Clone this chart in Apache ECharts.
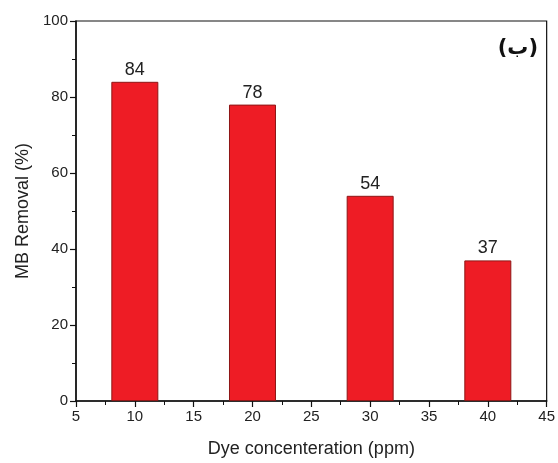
<!DOCTYPE html>
<html>
<head>
<meta charset="utf-8">
<script src="https://cdn.jsdelivr.net/npm/echarts@6/dist/echarts.min.js"></script>
<style>
  html, body { margin: 0; padding: 0; background: #fff; }
  #chart { width: 558px; height: 463px; }
</style>
</head>
<body>
<div id="chart"></div>
<script>
// Dye concentration (ppm) and methylene blue removal (%)
const concentrations = [10, 20, 30, 40];
const removal = [84, 78, 54, 37];
const xTicks = { min: 5, max: 45, step: 5 };
const yTicks = { min: 0, max: 100, step: 20 };
const panelTag = '(ب)';

const chart = echarts.init(document.getElementById('chart'));
const font = 'Liberation Sans, Arial, sans-serif';

chart.setOption({
  animation: false,
  grid: {
    left: 76, right: 8, top: 21, bottom: 60,
    show: true, borderColor: '#111', borderWidth: 1.2, backgroundColor: 'transparent'
  },
  xAxis: {
    type: 'value',
    min: xTicks.min, max: xTicks.max, interval: xTicks.step,
    name: 'Dye concenteration (ppm)',
    nameLocation: 'middle', nameGap: 39,
    nameTextStyle: { fontFamily: font, fontSize: 18, color: '#222' },
    axisLine: { show: true, onZero: false, lineStyle: { color: '#111', width: 1.5 } },
    axisTick: { show: true, inside: false, length: 6, lineStyle: { color: '#111', width: 1.2 } },
    minorTick: { show: true, splitNumber: 2, length: 4, lineStyle: { color: '#111', width: 1 } },
    axisLabel: { fontFamily: font, fontSize: 15, color: '#222', margin: 8 },
    splitLine: { show: false }
  },
  yAxis: {
    type: 'value',
    min: yTicks.min, max: yTicks.max, interval: yTicks.step,
    name: 'MB Removal (%)',
    nameLocation: 'middle', nameGap: 43,
    nameTextStyle: { fontFamily: font, fontSize: 18, color: '#222' },
    axisLine: { show: true, lineStyle: { color: '#111', width: 1.5 } },
    axisTick: { show: true, inside: false, length: 6, lineStyle: { color: '#111', width: 1.2 } },
    minorTick: { show: true, splitNumber: 2, length: 4, lineStyle: { color: '#111', width: 1 } },
    axisLabel: { fontFamily: font, fontSize: 15, color: '#222', margin: 8 },
    splitLine: { show: false }
  },
  series: [{
    type: 'bar',
    data: concentrations.map((c, i) => [c, removal[i]]),
    barWidth: 47,
    itemStyle: { color: '#ee1c25', borderColor: '#8e1616', borderWidth: 1 },
    label: {
      show: true, position: 'top', distance: 3,
      fontFamily: font, fontSize: 18, color: '#222',
      formatter: p => p.value[1]
    }
  }],
  graphic: [{
    type: 'text',
    right: 20, top: 38,
    style: {
      text: panelTag,
      fontFamily: 'DejaVu Sans, Noto Sans, sans-serif',
      fontSize: 21, fontWeight: 'bold', fill: '#111'
    }
  }]
});
</script>
</body>
</html>
